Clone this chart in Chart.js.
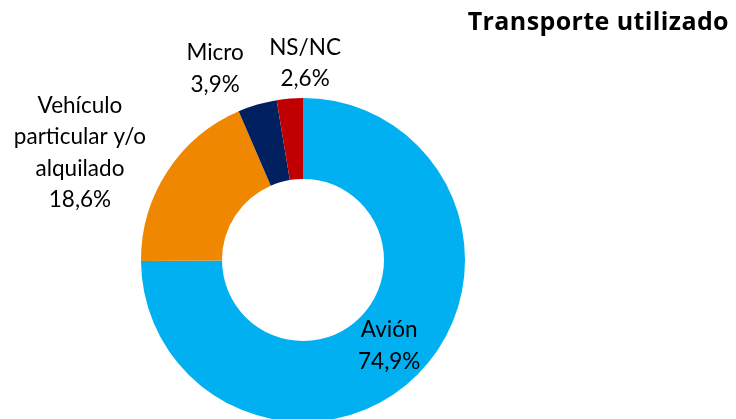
<!DOCTYPE html>
<html>
<head>
<meta charset="utf-8">
<script src="https://cdn.jsdelivr.net/npm/chart.js@4/dist/chart.umd.min.js"></script>
<style>
  html, body { margin: 0; padding: 0; background: #fff; overflow: hidden; }
  #wrap { position: absolute; left: 0; top: 0; width: 736px; height: 430px; }
</style>
</head>
<body>
<div id="wrap"><canvas id="chart"></canvas></div>
<script>
// Data
const categories = ['Avión', 'Vehículo particular y/o alquilado', 'Micro', 'NS/NC'];
const shares = [74.9, 18.6, 3.9, 2.6];
const colors = ['#00B0F0', '#EF8700', '#002060', '#C00000'];
// label lines shown next to each slice
const labelLines = [
    ['Avión', '74,9%'],
    ['Vehículo', 'particular y/o', 'alquilado', '18,6%'],
    ['Micro', '3,9%'],
    ['NS/NC', '2,6%']
];
const chartTitle = 'Transporte utilizado';

// label anchor: angle (deg, from 12 o'clock clockwise) and distance in units of outer radius
const labelAnchors = [
    { mid: true, r: 0.75 },
    { ang: 295.7, r: 1.528 },
    { ang: 335.3, r: 1.298 },
    { ang: 0.6, r: 1.216 }
];

const labelPlugin = {
    id: 'sliceLabels',
    afterDatasetsDraw(chart) {
        const ctx = chart.ctx;
        const meta = chart.getDatasetMeta(0);
        ctx.save();
        ctx.fillStyle = '#000';
        ctx.font = '22.5px Lato';
        ctx.textAlign = 'center';
        ctx.textBaseline = 'middle';
        const lh = 31.5;
        meta.data.forEach((arc, i) => {
            const a = labelAnchors[i];
            let x, y;
            if (a.mid) {
                const p = arc.getCenterPoint();
                x = p.x; y = p.y;
            } else {
                const t = (a.ang - 90) * Math.PI / 180;
                x = arc.x + Math.cos(t) * arc.outerRadius * a.r;
                y = arc.y + Math.sin(t) * arc.outerRadius * a.r;
            }
            const lines = labelLines[i];
            const y0 = y - (lines.length - 1) * lh / 2;
            lines.forEach((ln, k) => ctx.fillText(ln, x, y0 + k * lh));
        });
        // title
        ctx.font = 'bold 25px "Open Sans"';
        ctx.letterSpacing = '0.4px';
        ctx.textAlign = 'right';
        ctx.fillText(chartTitle, 729, 23);
        ctx.restore();
    }
};

new Chart(document.getElementById('chart'), {
    type: 'doughnut',
    data: {
        labels: categories,
        datasets: [{
            data: shares,
            backgroundColor: colors,
            borderWidth: 0,
            hoverOffset: 0
        }]
    },
    options: {
        responsive: true,
        maintainAspectRatio: false,
        animation: false,
        cutout: '50%',
        layout: { padding: { left: 141, right: 271, top: 98, bottom: 8 } },
        plugins: {
            legend: { display: false },
            tooltip: { enabled: false }
        }
    },
    plugins: [labelPlugin]
});
</script>
</body>
</html>
